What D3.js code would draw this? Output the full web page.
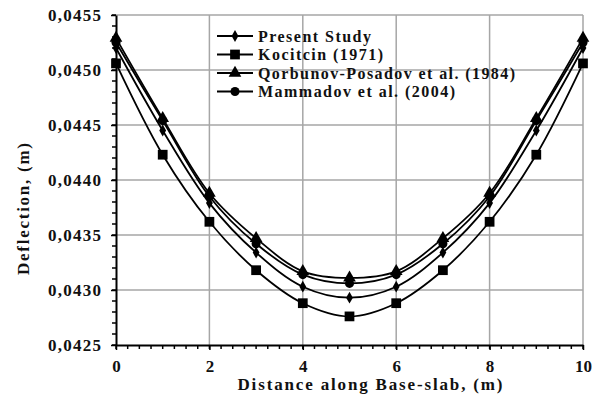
<!DOCTYPE html>
<html>
<head>
<meta charset="utf-8">
<script src="https://cdn.jsdelivr.net/npm/d3@7"></script>
<style>
  body { margin: 0; background: #fff; }
  text { font-family: "Liberation Serif", "Times New Roman", serif; font-weight: bold; fill: #111; }
</style>
</head>
<body>
<div id="chart"></div>
<script>
// distances along the base slab (m)
const distance = [0, 1, 2, 3, 4, 5, 6, 7, 8, 9, 10]

// deflection values (m)
const presentStudy = [0.04520, 0.04445, 0.04379, 0.04334, 0.04303, 0.04293, 0.04303, 0.04334, 0.04379, 0.04445, 0.04520]
const kocitcin = [0.04506, 0.04423, 0.04362, 0.04318, 0.04288, 0.04276, 0.04288, 0.04318, 0.04362, 0.04423, 0.04506]
const qorbunov = [0.04529, 0.04456, 0.04388, 0.04347, 0.04317, 0.04311, 0.04317, 0.04347, 0.04388, 0.04456, 0.04529]
const mammadov = [0.04525, 0.04454, 0.04385, 0.04342, 0.04314, 0.04306, 0.04314, 0.04342, 0.04385, 0.04454, 0.04525]

const seriesNames = ["Present Study", "Kocitcin (1971)", "Qorbunov-Posadov et al. (1984)", "Mammadov et al. (2004)"]
const seriesSymbols = ["diamond", "square", "triangle", "circle"]

const xTicks = [0, 2, 4, 6, 8, 10]
const yTicks = [0.0425, 0.0430, 0.0435, 0.0440, 0.0445, 0.0450, 0.0455]
const yTickLabels = ["0,0425", "0,0430", "0,0435", "0,0440", "0,0445", "0,0450", "0,0455"]

const series = [presentStudy, kocitcin, qorbunov, mammadov]

// plot box
const margin = { top: 15, right: 18, bottom: 55, left: 116 },
    W = 601, H = 400,
    width = W - margin.left - margin.right,
    height = H - margin.top - margin.bottom;

const svg = d3.select("#chart")
    .append("svg")
    .attr("width", W)
    .attr("height", H)

const g = svg.append("g")
    .attr("transform", `translate(${margin.left},${margin.top})`)

const x = d3.scaleLinear().domain([0, 10]).range([0, width])
const y = d3.scaleLinear().domain([0.0425, 0.0455]).range([height, 0])

// gridlines
g.append("g").selectAll("line")
    .data(yTicks.slice(1))
    .join("line")
    .attr("x1", 0).attr("x2", width)
    .attr("y1", d => y(d)).attr("y2", d => y(d))
    .attr("stroke", "#a6a6a6").attr("stroke-width", 1.5)
g.append("g").selectAll("line")
    .data(xTicks.slice(1))
    .join("line")
    .attr("x1", d => x(d)).attr("x2", d => x(d))
    .attr("y1", 0).attr("y2", height)
    .attr("stroke", "#a6a6a6").attr("stroke-width", 1.5)

// minor ticks
const yMinor = d3.range(0.0425, 0.04551, 0.0001)
g.append("g").selectAll("line")
    .data(yMinor)
    .join("line")
    .attr("x1", -4).attr("x2", 0)
    .attr("y1", d => y(d)).attr("y2", d => y(d))
    .attr("stroke", "#000").attr("stroke-width", 1.5)
const xMinor = d3.range(0, 10.01, 0.25)
g.append("g").selectAll("line")
    .data(xMinor)
    .join("line")
    .attr("x1", d => x(d)).attr("x2", d => x(d))
    .attr("y1", height).attr("y2", height + 4)
    .attr("stroke", "#000").attr("stroke-width", 1.5)

// axes
const xAxis = g.append("g")
    .attr("transform", `translate(0,${height})`)
    .call(d3.axisBottom(x).tickValues(xTicks).tickSize(5).tickPadding(10).tickSizeOuter(0))
const yAxis = g.append("g")
    .call(d3.axisLeft(y).tickValues(yTicks).tickFormat((d, i) => yTickLabels[i]).tickSize(5).tickPadding(10).tickSizeOuter(0))

;[xAxis, yAxis].forEach(a => {
    a.select(".domain").attr("stroke", "#000").attr("stroke-width", 2)
    a.selectAll(".tick line").attr("stroke", "#000").attr("stroke-width", 1.5)
    a.selectAll("text").attr("font-size", 17).attr("fill", "#111")
        .attr("font-family", '"Liberation Serif", serif').attr("font-weight", "bold")
})
yAxis.selectAll("text").attr("textLength", 53).attr("lengthAdjust", "spacing")

// lines
const line = d3.line()
    .x((d, i) => x(distance[i]))
    .y(d => y(d))
    .curve(d3.curveCatmullRom.alpha(0.5))

g.append("g").selectAll("path")
    .data(series)
    .join("path")
    .attr("d", d => line(d))
    .attr("fill", "none")
    .attr("stroke", "#000")
    .attr("stroke-width", 1.8)

// marker shapes
const symbolFor = {
    diamond: d3.symbol().type(d3.symbolDiamond).size(40),
    square: d3.symbol().type(d3.symbolSquare).size(95),
    triangle: d3.symbol().type(d3.symbolTriangle).size(70),
    circle: d3.symbol().type(d3.symbolCircle).size(65)
}

series.forEach((s, k) => {
    g.append("g").selectAll("path")
        .data(s)
        .join("path")
        .attr("transform", (d, i) => `translate(${x(distance[i])},${y(d)})`)
        .attr("d", symbolFor[seriesSymbols[k]]())
        .attr("fill", "#000")
})

// legend
const legendLengths = [113, 125, 257, 197]
const legend = svg.append("g").attr("transform", "translate(217,36)")
seriesNames.forEach((name, k) => {
    const row = legend.append("g").attr("transform", `translate(0,${k * 18.5})`)
    row.append("line").attr("x1", 0).attr("x2", 36).attr("y1", 0).attr("y2", 0)
        .attr("stroke", "#000").attr("stroke-width", 1.8)
    row.append("path").attr("transform", "translate(18,0)")
        .attr("d", symbolFor[seriesSymbols[k]]()).attr("fill", "#000")
    row.append("text").attr("x", 41).attr("y", 5.5)
        .attr("font-size", 16)
        .attr("textLength", legendLengths[k]).attr("lengthAdjust", "spacing")
        .text(name)
})

// axis titles
svg.append("text")
    .attr("x", 370).attr("y", 390)
    .attr("text-anchor", "middle")
    .attr("font-size", 17)
    .attr("textLength", 265).attr("lengthAdjust", "spacing")
    .text("Distance along Base-slab, (m)")

svg.append("text")
    .attr("transform", "translate(29,209) rotate(-90)")
    .attr("text-anchor", "middle")
    .attr("font-size", 17)
    .attr("textLength", 132).attr("lengthAdjust", "spacing")
    .text("Deflection, (m)")
</script>
</body>
</html>
